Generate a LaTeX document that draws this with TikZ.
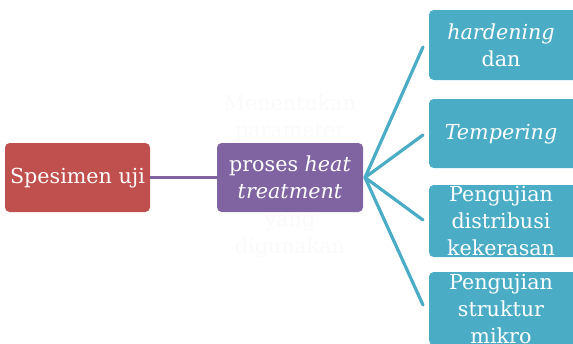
\documentclass[tikz,border=0pt]{standalone}
\usepackage{fontspec}
\setmainfont{DejaVu Serif}
\definecolor{cred}{HTML}{C0504D}
\definecolor{cpurple}{HTML}{8064A2}
\definecolor{caqua}{HTML}{4BACC6}
\tikzset{
  box/.style={rounded corners=3.5pt, draw=none},
  txt/.style={text=white, align=center, inner sep=0pt, font=\fontsize{15.5}{20.25}\selectfont},
  ghost/.style={txt, text=black!2},
  link/.style={line width=2.4pt, line cap=round},
}
\begin{document}
\begin{tikzpicture}[x=0.75pt,y=-0.75pt]
\clip (0,0) rectangle (573,343);
% boxes
\path[box, fill=cred] (5,143) rectangle (150,212);
\node[inner sep=0pt, minimum width=145*0.75pt, minimum height=69*0.75pt] (red) at (77.5,177.5) {};
\path[box, fill=cpurple] (217,143) rectangle (363,212);
\node[inner sep=0pt, minimum width=146*0.75pt, minimum height=69*0.75pt] (pur) at (290,177.5) {};
\path[box, fill=caqua] (429,10) rectangle (580,80);
\node[inner sep=0pt, minimum width=151*0.75pt, minimum height=70*0.75pt] (b1) at (504.5,45) {};
\path[box, fill=caqua] (429,99) rectangle (580,168);
\node[inner sep=0pt, minimum width=151*0.75pt, minimum height=69*0.75pt] (b2) at (504.5,133.5) {};
\path[box, fill=caqua] (429,185) rectangle (580,257);
\node[inner sep=0pt, minimum width=151*0.75pt, minimum height=72*0.75pt] (b3) at (504.5,221) {};
\path[box, fill=caqua] (429,272) rectangle (580,345);
\node[inner sep=0pt, minimum width=151*0.75pt, minimum height=73*0.75pt] (b4) at (504.5,308.5) {};
% texts
\node[txt] (tred) at (77.5,178) {Spesimen uji};
\node[ghost] (tpurA) at (290,118.5) {Menentukan\\parameter};
\node[txt] (tpur) at (290,177.5) {proses \textit{heat}\\\textit{treatment}};
\node[ghost] (tpurB) at (290,236.5) {yang\\digunakan};
\node[txt] (t1) at (501,45) {\textit{hardening}\\dan};
\node[txt] (t2) at (501,134) {\textit{Tempering}};
\node[txt] (t3) at (501,221) {Pengujian\\distribusi\\kekerasan};
\node[txt] (t4) at (501,309) {Pengujian\\struktur\\mikro};
% connectors
\coordinate (hub) at (365,177.5);
\draw[link, cpurple, line cap=butt] (red.east) -- (pur.west);
\foreach \b/\yy in {b1/47, b2/135, b3/220, b4/305}{
  \coordinate (end\b) at (423,\yy);
  \draw[link, caqua] (hub) -- (end\b);
}
\end{tikzpicture}
\end{document}
